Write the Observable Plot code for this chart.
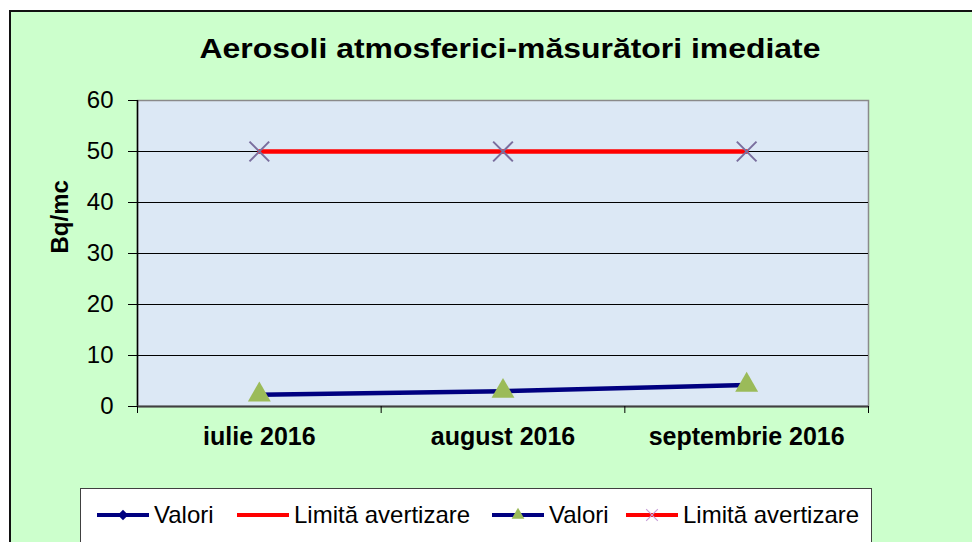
<!DOCTYPE html>
<html>
<head>
<meta charset="utf-8">
<script src="https://cdn.jsdelivr.net/npm/d3@7"></script>
<script src="https://cdn.jsdelivr.net/npm/@observablehq/plot@0.6"></script>
<style>
  html, body { margin: 0; padding: 0; background: #ffffff; }
  #page { position: relative; width: 972px; height: 542px; overflow: hidden; background: #ffffff;
          font-family: "Liberation Sans", Arial, sans-serif; }
  #panel { position: absolute; left: 9px; top: 10px; width: 963px; height: 532px; background: #ccffcc;
           border-left: 2px solid #111; border-top: 2px solid #111; box-sizing: border-box; }
  #chart { position: absolute; left: 0; top: 0; }
  #title { position: absolute; left: 0; width: 1020px; top: 33px; text-align: center;
           font-weight: bold; font-size: 28px; color: #000; transform: scaleX(1.14); transform-origin: 510px 0; }
  #legend { position: absolute; left: 80px; top: 488px; width: 792px; height: 70px; background: #fff;
            border: 1px solid #404040; box-sizing: border-box; }
  .item { position: absolute; top: 12px; display: flex; align-items: center; font-size: 24px; color: #000; }
  .item svg { margin-right: 3px; }
</style>
</head>
<body>
<div id="page">
  <div id="panel"></div>
  <div id="chart"></div>
  <div id="title"></div>
  <div id="legend"></div>
</div>
<script>
const titleText = "Aerosoli atmosferici-măsurători imediate";
const yLabel = "Bq/mc";
const categories = ["iulie 2016", "august 2016", "septembrie 2016"];
const valori = [2.3, 3.0, 4.2];
const limita = [50, 50, 50];
const yTicks = [0, 10, 20, 30, 40, 50, 60];
const gridTicks = [10, 20, 30, 40, 50];
const legendLabels = ["Valori", "Limită avertizare", "Valori", "Limită avertizare"];

document.getElementById("title").textContent = titleText;

const rows = categories.map((c, i) => ({cat: c, idx: i + 0.5, valori: valori[i], limita: limita[i]}));
const bounds = d3.range(categories.length + 1);
const centers = categories.map((_, i) => i + 0.5);

const chart = Plot.plot({
  width: 972,
  height: 542,
  marginLeft: 137,
  marginRight: 104,
  marginTop: 100,
  marginBottom: 136,
  style: {background: "transparent", fontFamily: "'Liberation Sans', Arial, sans-serif", color: "#000", overflow: "visible"},
  x: {type: "linear", domain: [0, categories.length]},
  y: {domain: [0, 60]},
  marks: [
    Plot.frame({fill: "#dce8f5", stroke: "#8a8a8a", strokeWidth: 1.5}),
    Plot.gridY(gridTicks, {stroke: "#000", strokeOpacity: 1, strokeWidth: 1}),
    Plot.ruleX([0], {stroke: "#000", strokeWidth: 1.5}),
    Plot.ruleY([0], {stroke: "#404040", strokeWidth: 2}),
    Plot.axisY(yTicks, {tickSize: 9, tickPadding: 15, fontSize: 24, stroke: "#000", label: null}),
    Plot.axisX(bounds, {tickSize: 7, tickFormat: () => "", stroke: "#000", label: null}),
    Plot.axisX(centers, {tickSize: 0, tickPadding: 21, fontSize: 25, fontWeight: "bold",
      tickFormat: (d) => categories[Math.round(d - 0.5)], label: null}),
    Plot.text([yLabel], {frameAnchor: "left", rotate: -90, dx: -77, fontSize: 24, fontWeight: "bold", fill: "#000"}),
    Plot.line(rows, {x: "idx", y: "limita", stroke: "#ff0000", strokeWidth: 4.5}),
    Plot.line(rows, {x: "idx", y: "valori", stroke: "#000080", strokeWidth: 4.5}),
    Plot.dot(rows, {x: "idx", y: "valori", symbol: "diamond2", fill: "#000080", r: 5}),
    Plot.dot(rows, {x: "idx", y: "valori", symbol: "triangle", fill: "#9bbb59", r: 8.5}),
    Plot.dot(rows, {x: "idx", y: "limita", symbol: "times", stroke: "#7a6e9e", strokeWidth: 2, r: 9})
  ]
});
document.getElementById("chart").appendChild(chart);

// Legend
const legend = document.getElementById("legend");
const itemLefts = [14, 154, 409, 543];
const swatches = [
  {stroke: "#000080", marker: "diamond"},
  {stroke: "#ff0000", marker: null},
  {stroke: "#000080", marker: "triangle"},
  {stroke: "#ff0000", marker: "times"}
];
legendLabels.forEach((lab, i) => {
  const div = document.createElement("div");
  div.className = "item";
  div.style.left = itemLefts[i] + "px";
  const s = d3.create("svg").attr("width", 56).attr("height", 24);
  s.append("line").attr("x1", 2).attr("x2", 54).attr("y1", 12).attr("y2", 12)
    .attr("stroke", swatches[i].stroke).attr("stroke-width", 4);
  const m = swatches[i].marker;
  if (m === "diamond") s.append("path").attr("d", d3.symbol(d3.symbolDiamond2, 70)()).attr("transform", "translate(28,12)").attr("fill", "#000080");
  if (m === "triangle") s.append("path").attr("d", d3.symbol(d3.symbolTriangle, 70)()).attr("transform", "translate(28,12)").attr("fill", "#9bbb59");
  if (m === "times") s.append("path").attr("d", d3.symbol(d3.symbolTimes, 90)()).attr("transform", "translate(28,12)").attr("stroke", "#c8a0d8").attr("stroke-width", 1.2).attr("fill", "none");
  div.appendChild(s.node());
  const t = document.createElement("span");
  t.textContent = lab;
  div.appendChild(t);
  legend.appendChild(div);
});
</script>
</body>
</html>
